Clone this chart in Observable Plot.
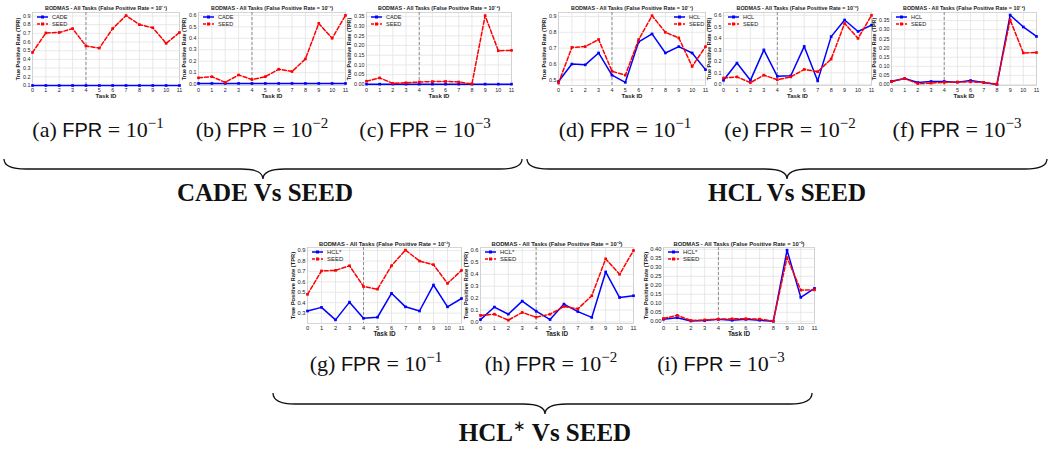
<!DOCTYPE html>
<html><head><meta charset="utf-8">
<script src="https://cdn.jsdelivr.net/npm/d3@7"></script>
<script src="https://cdn.jsdelivr.net/npm/@observablehq/plot@0.6"></script>
<style>
body{margin:0;background:#fff;}
#fig{position:relative;width:1050px;height:450px;overflow:hidden;background:#fff;}
.panel{position:absolute;}
.panel svg{display:block;}
.cap{position:absolute;font-family:"Liberation Serif",serif;font-size:22px;transform:translate(-50%,-50%);white-space:nowrap;color:#111;}
.cap .sf{font-family:"Liberation Sans",sans-serif;font-size:20px;}
.cap sup{font-size:15px;vertical-align:9px;line-height:0;}
.grp{position:absolute;font-family:"Liberation Serif",serif;font-weight:bold;font-size:25px;transform:translate(-50%,-50%);white-space:nowrap;color:#111;}
.grp sup{font-size:15px;vertical-align:10px;line-height:0;font-weight:normal;}
.leg{position:absolute;}
</style></head><body><div id="fig"></div>
<script>
// ---------- data ----------
const taskIds = [0, 1, 2, 3, 4, 5, 6, 7, 8, 9, 10, 11];
const boundaryTask = [4];

const seedFpr1 = [0.48, 0.705, 0.71, 0.755, 0.555, 0.53, 0.755, 0.905, 0.80, 0.765, 0.585, 0.71];
const seedFpr2 = [0.055, 0.065, 0.015, 0.08, 0.04, 0.065, 0.13, 0.11, 0.22, 0.53, 0.40, 0.60];
const seedFpr3 = [0.016, 0.033, 0.005, 0.008, 0.012, 0.014, 0.015, 0.012, 0.002, 0.354, 0.173, 0.175];

const cadeFpr1 = [0.1, 0.1, 0.1, 0.1, 0.1, 0.1, 0.1, 0.1, 0.1, 0.1, 0.1, 0.1];
const cadeFpr2 = [0.006, 0.006, 0.006, 0.006, 0.006, 0.006, 0.006, 0.006, 0.006, 0.006, 0.006, 0.006];
const cadeFpr3 = [0.001, 0.001, 0.001, 0.001, 0.001, 0.001, 0.001, 0.001, 0.001, 0.001, 0.001, 0.001];

const hclFpr1 = [0.49, 0.60, 0.595, 0.67, 0.53, 0.485, 0.74, 0.79, 0.67, 0.71, 0.67, 0.565];
const hclFpr2 = [0.035, 0.185, 0.035, 0.30, 0.07, 0.075, 0.33, 0.03, 0.415, 0.56, 0.46, 0.515];
const hclFpr3 = [0.018, 0.033, 0.011, 0.017, 0.017, 0.013, 0.022, 0.011, 0.001, 0.38, 0.315, 0.263];

const hclStarFpr1 = [0.32, 0.355, 0.235, 0.405, 0.25, 0.26, 0.49, 0.36, 0.32, 0.57, 0.36, 0.44];
const hclStarFpr2 = [0.02, 0.125, 0.065, 0.175, 0.09, 0.02, 0.15, 0.087, 0.038, 0.42, 0.205, 0.22];
const hclStarFpr3 = [0.011, 0.02, 0.002, 0.004, 0.011, 0.006, 0.011, 0.006, 0.0, 0.395, 0.133, 0.183];

const ticksA = [0.1, 0.2, 0.3, 0.4, 0.5, 0.6, 0.7, 0.8, 0.9];
const ticks06 = [0.0, 0.1, 0.2, 0.3, 0.4, 0.5, 0.6];
const ticks035 = [0.0, 0.05, 0.10, 0.15, 0.20, 0.25, 0.30, 0.35];
const ticksD = [0.5, 0.6, 0.7, 0.8, 0.9];
const ticksG = [0.3, 0.4, 0.5, 0.6, 0.7, 0.8, 0.9];
const ticks040 = [0.0, 0.05, 0.10, 0.15, 0.20, 0.25, 0.30, 0.35, 0.40];

const exponents = ["10\u207B\u00B9", "10\u207B\u00B2", "10\u207B\u00B3"];
const captionLetters = ["a", "b", "c", "d", "e", "f", "g", "h", "i"];
const captionExp = ["\u22121", "\u22122", "\u22123"];
const groupNames = ["CADE", "HCL", "HCL"];
const xLabel = "Task ID";
const yLabel = "True Positive Rate (TPR)";

// ---------- layout ----------
const panels = [
  {L: 32,  T: 12,  W: 147, H: 73, base: "CADE", bv: cadeFpr1, sv: seedFpr1, dom: [0.1, 0.94],    ticks: ticksA,  fmt: ".1f", e: 0, leg: "left"},
  {L: 198, T: 12,  W: 147, H: 73, base: "CADE", bv: cadeFpr2, sv: seedFpr2, dom: [-0.012, 0.625], ticks: ticks06, fmt: ".1f", e: 1, leg: "left"},
  {L: 366, T: 12,  W: 145, H: 73, base: "CADE", bv: cadeFpr3, sv: seedFpr3, dom: [-0.006, 0.37],  ticks: ticks035, fmt: ".2f", e: 2, leg: "left"},
  {L: 558, T: 12,  W: 147, H: 73, base: "HCL",  bv: hclFpr1,  sv: seedFpr1, dom: [0.465, 0.925], ticks: ticksD,  fmt: ".1f", e: 0, leg: "right"},
  {L: 723, T: 12,  W: 148, H: 73, base: "HCL",  bv: hclFpr2,  sv: seedFpr2, dom: [-0.01, 0.625], ticks: ticks06, fmt: ".1f", e: 1, leg: "left"},
  {L: 891, T: 12,  W: 145, H: 73, base: "HCL",  bv: hclFpr3,  sv: seedFpr3, dom: [-0.005, 0.394], ticks: ticks035, fmt: ".2f", e: 2, leg: "left"},
  {L: 307, T: 247, W: 154, H: 76, base: "HCL*", bv: hclStarFpr1, sv: seedFpr1, dom: [0.2, 0.93], ticks: ticksG, fmt: ".1f", e: 0, leg: "left"},
  {L: 480, T: 247, W: 153, H: 76, base: "HCL*", bv: hclStarFpr2, sv: seedFpr2, dom: [-0.013, 0.625], ticks: ticks06, fmt: ".1f", e: 1, leg: "left"},
  {L: 663, T: 247, W: 151, H: 76, base: "HCL*", bv: hclStarFpr3, sv: seedFpr3, dom: [-0.012, 0.41], ticks: ticks040, fmt: ".2f", e: 2, leg: "left"}
];
const capPos = [[98,130],[262,130],[425,130],[625,130],[790,130],[957,130],[376,364],[551,364],[721,364]];

const fig = document.getElementById("fig");
const BLUE = "#0000ff", RED = "#ff0000";

panels.forEach((p, k) => {
  const big = p.T > 100;
  const fs = big ? 5.8 : 5.4;
  const mL = 34, mR = 6, mT = 13, mB = 18;
  const baseData = p.bv.map((v, i) => ({task: taskIds[i], tpr: v}));
  const seedData = p.sv.map((v, i) => ({task: taskIds[i], tpr: v}));
  const title = "BODMAS - All Tasks (False Positive Rate = " + exponents[p.e] + ")";
  const chart = Plot.plot({
    width: p.W + mL + mR, height: p.H + mT + mB,
    marginLeft: mL, marginRight: mR, marginTop: mT, marginBottom: mB,
    style: {background: "transparent", fontFamily: "'Liberation Sans', Arial, sans-serif", fontSize: fs + "px", overflow: "visible", color: "#222"},
    x: {domain: [0, 11]},
    y: {domain: p.dom},
    marks: [
      Plot.ruleX(taskIds, {stroke: "#e3e3e3", strokeWidth: 0.8}),
      Plot.ruleY(p.ticks, {stroke: "#e3e3e3", strokeWidth: 0.8}),
      Plot.frame({stroke: "#cccccc", strokeWidth: 0.8}),
      Plot.ruleX(boundaryTask, {stroke: "#777", strokeWidth: 0.8, strokeDasharray: "3,2"}),
      Plot.axisX(taskIds, {tickSize: 0, tickPadding: 2.5, label: null, fontSize: fs, fill: "#222"}),
      Plot.axisY(p.ticks, {tickSize: 0, tickPadding: 2, label: null, tickFormat: d3.format(p.fmt), fontSize: fs, fill: "#222"}),
      Plot.text([xLabel], {frameAnchor: "bottom", dy: 12, fontWeight: "bold", fontSize: fs + 0.6, fill: "#222"}),
      Plot.text([yLabel], {frameAnchor: "left", textAnchor: "middle", dx: p.fmt === ".2f" ? -17 : -14, rotate: -90, fontWeight: "bold", fontSize: fs, fill: "#222"}),
      Plot.text([title], {frameAnchor: "top", dy: -6, fontWeight: "bold", fontSize: fs, fill: "#222"}),
      Plot.line(baseData, {x: "task", y: "tpr", stroke: BLUE, strokeWidth: 1.5}),
      Plot.dot(baseData, {x: "task", y: "tpr", symbol: "square", r: 1.5, fill: BLUE, stroke: "none"}),
      Plot.line(seedData, {x: "task", y: "tpr", stroke: RED, strokeWidth: 1.5, strokeDasharray: "4,2"}),
      Plot.dot(seedData, {x: "task", y: "tpr", symbol: "square", r: 1.5, fill: RED, stroke: "none"})
    ]
  });
  const wrap = document.createElement("div");
  wrap.className = "panel";
  wrap.style.left = (p.L - mL) + "px";
  wrap.style.top = (p.T - mT) + "px";
  wrap.appendChild(chart);
  fig.appendChild(wrap);

  // legend
  const lw = 40, lh = 16;
  const leg = d3.create("svg").attr("width", lw).attr("height", lh)
    .style("font-family", "'Liberation Sans', Arial, sans-serif").style("font-size", (fs + 0.2) + "px");
  [[p.base, BLUE, null], ["SEED", RED, "3,1.5"]].forEach(([name, col, dash], r) => {
    const y = 4 + r * 7;
    leg.append("line").attr("x1", 1).attr("x2", 12).attr("y1", y).attr("y2", y)
      .attr("stroke", col).attr("stroke-width", 1.5).attr("stroke-dasharray", dash);
    leg.append("rect").attr("x", 5).attr("y", y - 1.5).attr("width", 3).attr("height", 3).attr("fill", col);
    leg.append("text").attr("x", 16).attr("y", y).attr("dy", "0.35em").attr("fill", "#222").text(name);
  });
  const ld = document.createElement("div");
  ld.className = "leg";
  ld.style.top = (p.T + 1) + "px";
  ld.style.left = (p.leg === "left" ? p.L + 4 : p.L + p.W - 32) + "px";
  ld.appendChild(leg.node());
  fig.appendChild(ld);

  // caption
  const cap = document.createElement("div");
  cap.className = "cap";
  cap.style.left = capPos[k][0] + "px";
  cap.style.top = capPos[k][1] + "px";
  cap.innerHTML = "(" + captionLetters[k] + ") <span class='sf'>FPR</span> = 10<sup>" + captionExp[p.e] + "</sup>";
  fig.appendChild(cap);
});

// braces and group labels
const braces = [
  {x0: 4, x1: 522, tip: 263, yEnd: 159, yMid: 169, yTip: 179},
  {x0: 527, x1: 1047, tip: 787, yEnd: 159, yMid: 169, yTip: 179},
  {x0: 273, x1: 812, tip: 545, yEnd: 393, yMid: 404, yTip: 414}
];
const ov = d3.create("svg").attr("width", 1050).attr("height", 450)
  .style("position", "absolute").style("left", "0px").style("top", "0px").style("pointer-events", "none");
braces.forEach(b => {
  const r = 22;
  const path = `M${b.x0},${b.yEnd} Q${b.x0},${b.yMid} ${b.x0 + r},${b.yMid} L${b.tip - r},${b.yMid} Q${b.tip},${b.yMid} ${b.tip},${b.yTip} Q${b.tip},${b.yMid} ${b.tip + r},${b.yMid} L${b.x1 - r},${b.yMid} Q${b.x1},${b.yMid} ${b.x1},${b.yEnd}`;
  ov.append("path").attr("d", path).attr("fill", "none").attr("stroke", "#111").attr("stroke-width", 1.3);
});
fig.appendChild(ov.node());

const groups = [
  {x: 265, y: 193, html: groupNames[0] + " Vs SEED"},
  {x: 787, y: 193, html: groupNames[1] + " Vs SEED"},
  {x: 545, y: 433, html: groupNames[2] + "<sup>\u2217</sup> Vs SEED"}
];
groups.forEach(g => {
  const d = document.createElement("div");
  d.className = "grp";
  d.style.left = g.x + "px";
  d.style.top = g.y + "px";
  d.innerHTML = g.html;
  fig.appendChild(d);
});
</script>
</body></html>
